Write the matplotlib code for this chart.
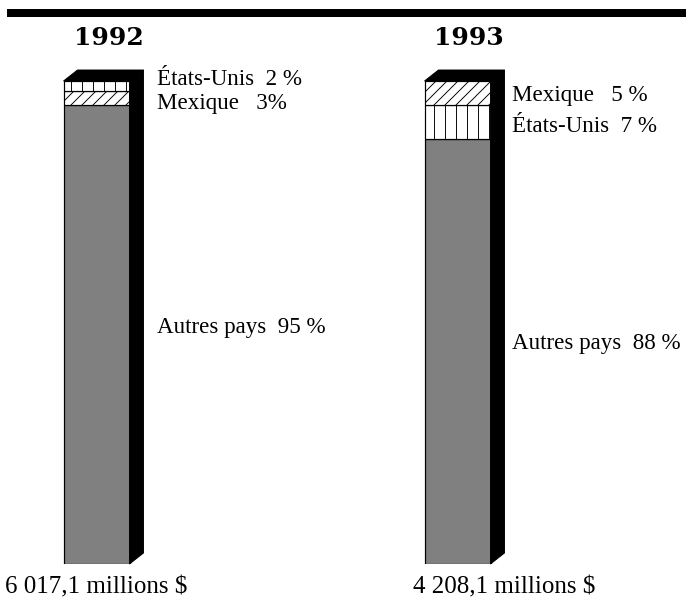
import matplotlib.pyplot as plt
import matplotlib.patches as mpatches

plt.rcParams["font.family"] = ["Liberation Serif", "DejaVu Serif"]
plt.rcParams["hatch.linewidth"] = 1.0

# données
years = ["1992", "1993"]
totals = ["6 017,1 millions \\$", "4 208,1 millions \\$"]
# segments du bas vers le haut
segments = [
    [("Autres pays", 95), ("Mexique", 3), ("États-Unis", 2)],
    [("Autres pays", 88), ("États-Unis", 7), ("Mexique", 5)],
]
labels = [
    [("États-Unis  2 %", 85), ("Mexique   3%", 109), ("Autres pays  95 %", 333)],
    [("Mexique   5 %", 101), ("États-Unis  7 %", 132), ("Autres pays  88 %", 349)],
]

FACE = {"Autres pays": "#808080", "Mexique": "white", "États-Unis": "white"}
HATCH = {"Autres pays": None, "Mexique": "//", "États-Unis": "|"}

W, H = 686, 600
DPI = 200 / 3
PT = 72 / DPI  # px -> pt

fig = plt.figure(figsize=(W / DPI, H / DPI), dpi=DPI)
ax = fig.add_axes([0, 36 / H, 1, 483 / H])
ax.set_xlim(0, W)
ax.set_ylim(0, 100)
ax.axis("off")

centers = [96.5, 457.5]
width = 66
dx = 14
dy = 11 / 4.83

for i, segs in enumerate(segments):
    bottom = 0
    for name, val in segs:
        ax.bar(centers[i], val, width=width, bottom=bottom, color=FACE[name],
               edgecolor="black", linewidth=1.3, hatch=HATCH[name])
        bottom += val
    x0 = centers[i] - width / 2
    x1 = centers[i] + width / 2
    side = mpatches.Polygon([(x1, 0), (x1 + dx, dy), (x1 + dx, bottom + dy), (x1, bottom)],
                            closed=True, facecolor="black", edgecolor="black", clip_on=False)
    top = mpatches.Polygon([(x0, bottom), (x0 + dx, bottom + dy), (x1 + dx, bottom + dy), (x1, bottom)],
                           closed=True, facecolor="black", edgecolor="black", clip_on=False)
    ax.add_patch(side)
    ax.add_patch(top)

# titres
title_x = [109, 469]
for i, yr in enumerate(years):
    fig.text(title_x[i] / W, 1 - 45 / H, yr, ha="center", va="baseline",
             fontsize=25 * PT, fontweight="bold", family="DejaVu Serif")

# étiquettes
label_x = [157, 512]
for i, labs in enumerate(labels):
    for txt, yb in labs:
        fig.text(label_x[i] / W, 1 - yb / H, txt, ha="left", va="baseline",
                 fontsize=23 * PT)

total_x = [5, 413]
for i, t in enumerate(totals):
    fig.text(total_x[i] / W, 1 - 593 / H, t, ha="left", va="baseline",
             fontsize=25 * PT)

# filet du haut
fig.patches.append(mpatches.Rectangle((7 / W, 1 - 17 / H), 1, 8 / H,
                                      transform=fig.transFigure, facecolor="black",
                                      edgecolor="none"))

fig.savefig("out.png", dpi=DPI)
